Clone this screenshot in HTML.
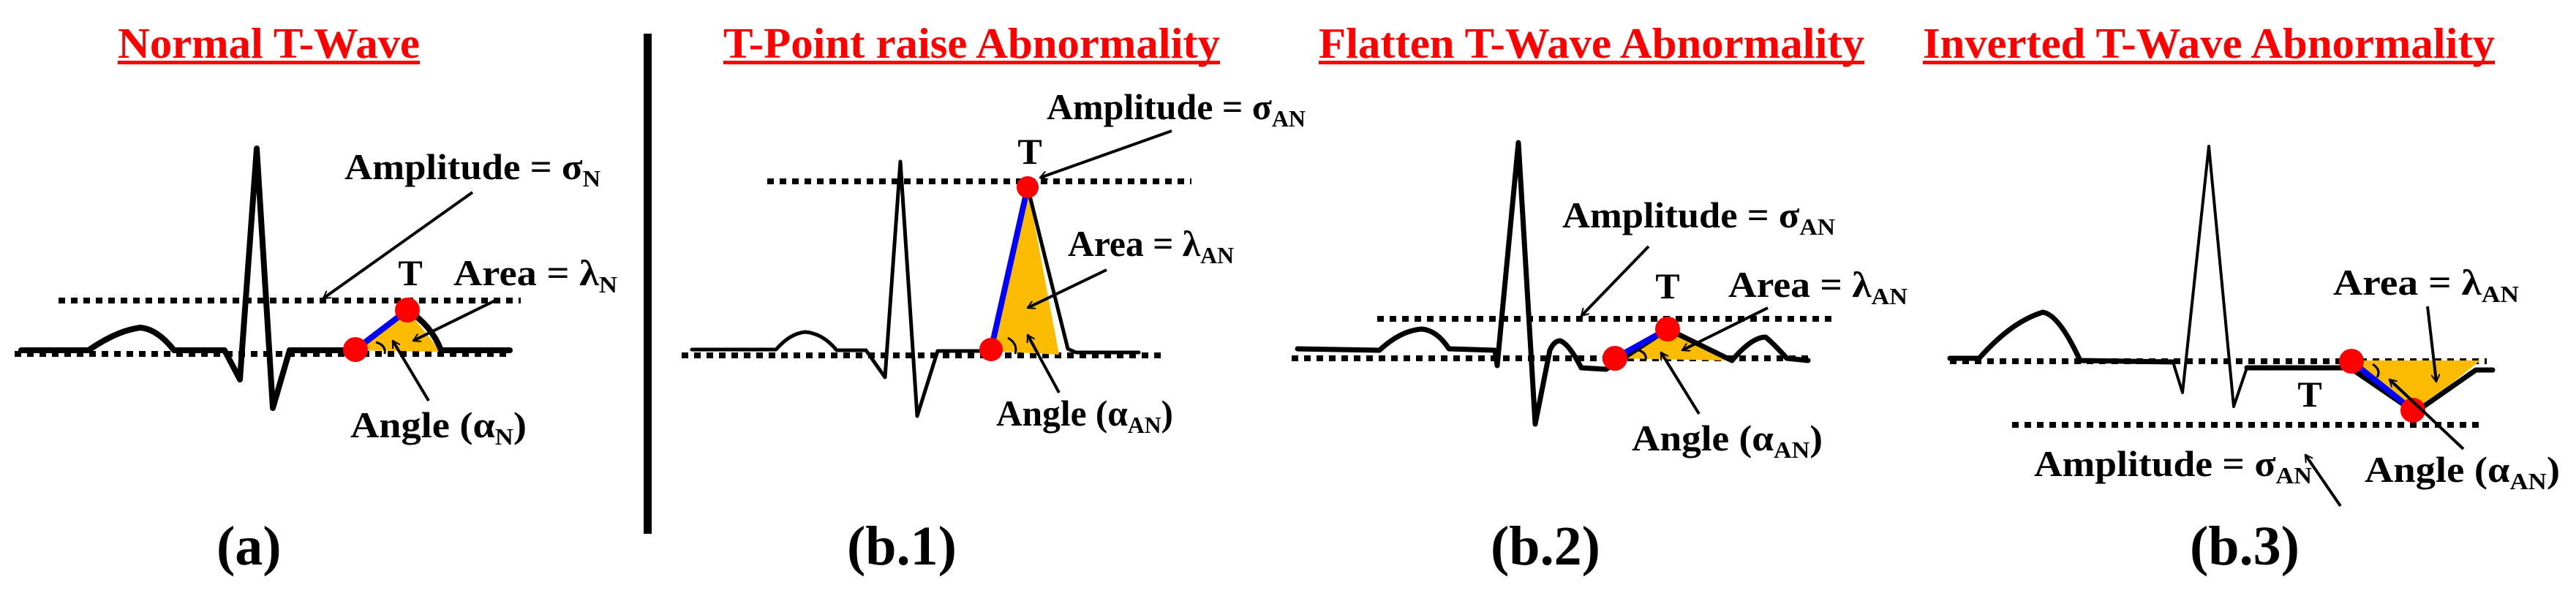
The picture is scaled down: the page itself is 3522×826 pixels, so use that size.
<!DOCTYPE html>
<html><head><meta charset="utf-8"><style>
html,body{margin:0;padding:0;background:#fff;}
svg{display:block;}
.t{font-family:"Liberation Serif",serif;font-weight:bold;}
.ti{fill:#f00;font-size:59px;}
.lb{font-size:50px;fill:#000;}
.cap{font-size:76px;fill:#000;}
.dot{stroke:#000;stroke-width:8;stroke-dasharray:9 8;fill:none;}
.ecg{stroke:#000;fill:none;stroke-linejoin:round;stroke-linecap:round;}
.ar{stroke:#000;stroke-width:4;fill:none;marker-end:url(#ah);}
.yl{fill:#fbbb00;}
.bl{stroke:#0000ff;stroke-width:8;}
.rd{fill:#f00;}
</style></head><body>
<svg width="3522" height="826" viewBox="0 0 3522 826" xmlns="http://www.w3.org/2000/svg">
<defs>
<marker id="ah" markerWidth="12" markerHeight="12" refX="10" refY="6" orient="auto" markerUnits="userSpaceOnUse" viewBox="0 0 12 12">
<path d="M0,0 L10,6 L0,12" fill="none" stroke="#000" stroke-width="2"/>
</marker>
</defs>

<!-- Titles -->
<text class="t ti" x="161" y="79" textLength="413" lengthAdjust="spacingAndGlyphs">Normal T-Wave</text>
<rect x="161" y="83" width="413" height="5" fill="#f00"/>
<text class="t ti" x="989" y="79" textLength="679" lengthAdjust="spacingAndGlyphs">T-Point raise Abnormality</text>
<rect x="989" y="83" width="679" height="5" fill="#f00"/>
<text class="t ti" x="1803" y="79" textLength="746" lengthAdjust="spacingAndGlyphs">Flatten T-Wave Abnormality</text>
<rect x="1803" y="83" width="746" height="5" fill="#f00"/>
<text class="t ti" x="2629" y="79" textLength="782" lengthAdjust="spacingAndGlyphs">Inverted T-Wave Abnormality</text>
<rect x="2629" y="83" width="782" height="5" fill="#f00"/>

<!-- divider -->
<rect x="880" y="46" width="11" height="684" fill="#000"/>

<!-- Panel a -->
<line class="dot" x1="80" y1="411" x2="712" y2="411"/>
<line class="dot" x1="20" y1="484" x2="697" y2="484"/>
<polygon class="yl" points="486,479 557,424 603,481"/>
<path class="ecg" stroke-width="8" d="M29,479 L121,479 Q160,452 192,448 Q215,450 238,479 L307,479 L328,519 L351,203 L373,558 L396,479 L485,479 L557,424 Q590,445 603,479 L697,479"/>
<line class="bl" x1="486" y1="478" x2="557" y2="424"/>
<circle class="rd" cx="486" cy="478" r="17"/>
<circle class="rd" cx="557" cy="424" r="17"/>
<path d="M514,468 Q528,472 526,484" stroke="#000" stroke-width="3" fill="none"/>
<text class="t lb" x="561" y="390" text-anchor="middle" font-size="48">T</text>
<text class="t lb" x="471" y="245" textLength="350" lengthAdjust="spacingAndGlyphs">Amplitude = σ<tspan font-size="32" dy="10">N</tspan></text>
<line class="ar" x1="646" y1="263" x2="442" y2="408"/>
<text class="t lb" x="620" y="390" textLength="224" lengthAdjust="spacingAndGlyphs">Area = λ<tspan font-size="32" dy="10">N</tspan></text>
<line class="ar" x1="677" y1="411" x2="565" y2="466"/>
<text class="t lb" x="479" y="598" textLength="241" lengthAdjust="spacingAndGlyphs">Angle (α<tspan font-size="32" dy="10">N</tspan><tspan dy="-10">)</tspan></text>
<line class="ar" x1="586" y1="548" x2="537" y2="466"/>
<text class="t cap" x="296" y="772">(a)</text>

<!-- Panel b.1 -->
<line class="dot" x1="1049" y1="248" x2="1629" y2="248"/>
<line class="dot" x1="932" y1="486" x2="1595" y2="486"/>
<polygon class="yl" points="1355,480 1405,256 1448,485"/>
<path class="ecg" stroke-width="5" d="M946,478 L1061,478 Q1080,456 1101,454 Q1125,456 1144,479 L1184,479 L1210,516 L1231,221 L1254,569 L1282,480 L1355,480 L1405,256 L1460,477 L1471,482 L1557,482"/>
<line class="bl" x1="1355" y1="478" x2="1405" y2="256"/>
<circle class="rd" cx="1355" cy="478" r="16"/>
<circle class="rd" cx="1405" cy="256" r="15"/>
<path d="M1378,462 Q1392,470 1388,484" stroke="#000" stroke-width="3" fill="none"/>
<text class="t lb" x="1408" y="224" text-anchor="middle" font-size="48">T</text>
<text class="t lb" x="1431" y="163" textLength="354" lengthAdjust="spacingAndGlyphs">Amplitude = σ<tspan font-size="32" dy="10">AN</tspan></text>
<line class="ar" x1="1602" y1="179" x2="1422" y2="243"/>
<text class="t lb" x="1460" y="350" textLength="227" lengthAdjust="spacingAndGlyphs">Area = λ<tspan font-size="32" dy="10">AN</tspan></text>
<line class="ar" x1="1513" y1="369" x2="1405" y2="421"/>
<text class="t lb" x="1362" y="582" textLength="242" lengthAdjust="spacingAndGlyphs">Angle (α<tspan font-size="32" dy="10">AN</tspan><tspan dy="-10">)</tspan></text>
<line class="ar" x1="1448" y1="537" x2="1405" y2="458"/>
<text class="t cap" x="1158" y="772">(b.1)</text>

<!-- Panel b.2 -->
<line class="dot" x1="1883" y1="436" x2="2509" y2="436"/>
<line class="dot" x1="1766" y1="490" x2="2478" y2="490"/>
<polygon class="yl" points="2208,490 2280,450 2360,493"/>
<path class="ecg" stroke-width="7" d="M1774,477 L1886,479 Q1915,452 1944,450 Q1965,452 1981,477 L2044,479 L2047,500 L2076,195 L2099,580 L2119,479 Q2125,466 2133,466 Q2145,470 2162,503 L2196,505 L2280,450 L2368,493 Q2395,461 2414,461 Q2425,470 2443,490 L2472,493"/>
<line class="bl" x1="2208" y1="490" x2="2280" y2="450"/>
<circle class="rd" cx="2208" cy="490" r="17"/>
<circle class="rd" cx="2280" cy="450" r="17"/>
<path d="M2238,478 Q2252,482 2250,492" stroke="#000" stroke-width="3" fill="none"/>
<text class="t lb" x="2280" y="408" text-anchor="middle" font-size="48">T</text>
<text class="t lb" x="2136" y="311" textLength="373" lengthAdjust="spacingAndGlyphs">Amplitude = σ<tspan font-size="32" dy="10">AN</tspan></text>
<line class="ar" x1="2254" y1="337" x2="2162" y2="432"/>
<text class="t lb" x="2363" y="406" textLength="245" lengthAdjust="spacingAndGlyphs">Area = λ<tspan font-size="32" dy="10">AN</tspan></text>
<line class="ar" x1="2417" y1="421" x2="2300" y2="479"/>
<text class="t lb" x="2231" y="616" textLength="261" lengthAdjust="spacingAndGlyphs">Angle (α<tspan font-size="32" dy="10">AN</tspan><tspan dy="-10">)</tspan></text>
<line class="ar" x1="2323" y1="566" x2="2271" y2="482"/>
<text class="t cap" x="2038" y="772">(b.2)</text>

<!-- Panel b.3 -->
<line class="dot" x1="2666" y1="494" x2="3400" y2="494"/>
<line class="dot" x1="2751" y1="581" x2="3391" y2="581"/>
<polygon class="yl" points="3215,493 3391,493 3306,562"/>
<path class="ecg" stroke-width="7" d="M2666,490 L2706,490 Q2750,440 2793,427 Q2815,430 2844,493 L2971,495"/>
<path class="ecg" stroke-width="4" d="M2971,495 L2984,537 L3020,200 L3054,556 L3072,503"/>
<path class="ecg" stroke-width="7" d="M3072,503 L3213,503 L3302,564 L3385,506 L3408,506"/>
<line class="bl" x1="3215" y1="494" x2="3299" y2="561"/>
<circle class="rd" cx="3215" cy="494" r="17"/>
<circle class="rd" cx="3299" cy="561" r="17"/>
<path d="M3244,498 Q3256,506 3250,516" stroke="#000" stroke-width="3" fill="none"/>
<text class="t lb" x="3158" y="556" text-anchor="middle" font-size="48">T</text>
<text class="t lb" x="3190" y="403" textLength="254" lengthAdjust="spacingAndGlyphs">Area = λ<tspan font-size="32" dy="10">AN</tspan></text>
<line class="ar" x1="3319" y1="419" x2="3331" y2="522"/>
<text class="t lb" x="2781" y="651" textLength="380" lengthAdjust="spacingAndGlyphs">Amplitude = σ<tspan font-size="32" dy="10">AN</tspan></text>
<line class="ar" x1="3200" y1="692" x2="3152" y2="622"/>
<text class="t lb" x="3233" y="659" textLength="267" lengthAdjust="spacingAndGlyphs">Angle (α<tspan font-size="32" dy="10">AN</tspan><tspan dy="-10">)</tspan></text>
<line class="ar" x1="3368" y1="614" x2="3267" y2="519"/>
<text class="t cap" x="2994" y="772">(b.3)</text>
</svg>
</body></html>
